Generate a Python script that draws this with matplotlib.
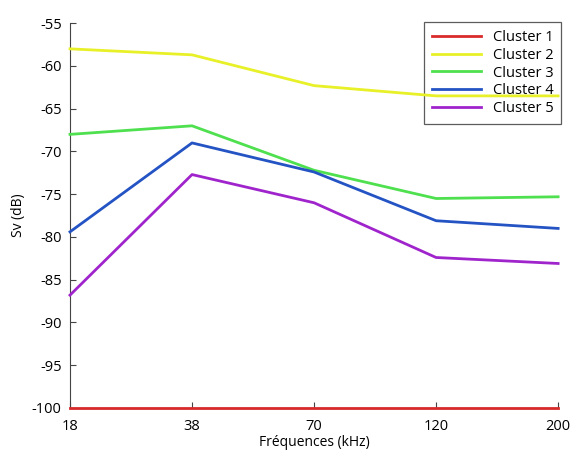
import numpy as np
import matplotlib.pyplot as plt

plt.rcParams['font.family'] = ['Open Sans', 'DejaVu Sans']
plt.rcParams['axes.unicode_minus'] = False

frequences = ['18', '38', '70', '120', '200']
cluster1 = [-100, -100, -100, -100, -100]
cluster2 = [-58.0, -58.7, -62.3, -63.5, -63.5]
cluster3 = [-68.0, -67.0, -72.2, -75.5, -75.3]
cluster4 = [-79.4, -69.0, -72.4, -78.1, -79.0]
cluster5 = [-86.8, -72.7, -76.0, -82.4, -83.1]

series = [cluster1, cluster2, cluster3, cluster4, cluster5]
noms = ['Cluster 1', 'Cluster 2', 'Cluster 3', 'Cluster 4', 'Cluster 5']
couleurs = ['#d92a2a', '#e8f028', '#4ee04e', '#2453c4', '#a024cc']

fig = plt.figure(figsize=(5.77, 4.55), dpi=100)
ax = fig.add_axes([0.1213, 0.1033, 0.846, 0.8457])

x = np.arange(len(frequences))
for y, nom, c in zip(series, noms, couleurs):
    ax.plot(x, y, color=c, lw=2, label=nom, clip_on=False, zorder=3)

ax.set_xlim(0, len(frequences) - 1)
ax.set_ylim(-100, -55)
ax.set_xticks(x)
ax.set_xticklabels(frequences)
ax.set_yticks(np.arange(-100, -54, 5))
ax.tick_params(direction='in', labelsize=10.5, length=4, color='#444444')
ax.tick_params(axis='x', pad=8)
ax.tick_params(axis='y', pad=6)
ax.spines['top'].set_visible(False)
ax.spines['right'].set_visible(False)
for s in ['left', 'bottom']:
    ax.spines[s].set_color('#444444')

ax.set_xlabel('Fréquences (kHz)', fontsize=10, labelpad=1)
ax.set_ylabel('Sv (dB)', fontsize=10, labelpad=4)

leg = ax.legend(loc='upper right', bbox_to_anchor=(1.006, 1.002), fontsize=10.5,
                frameon=True, fancybox=False, handlelength=3.4, handletextpad=0.8,
                labelspacing=0.2, borderpad=0.5, borderaxespad=0)
leg.get_frame().set_edgecolor('#333333')
leg.get_frame().set_linewidth(0.9)
leg.set_zorder(2)

fig.savefig('out.png', dpi=100)
